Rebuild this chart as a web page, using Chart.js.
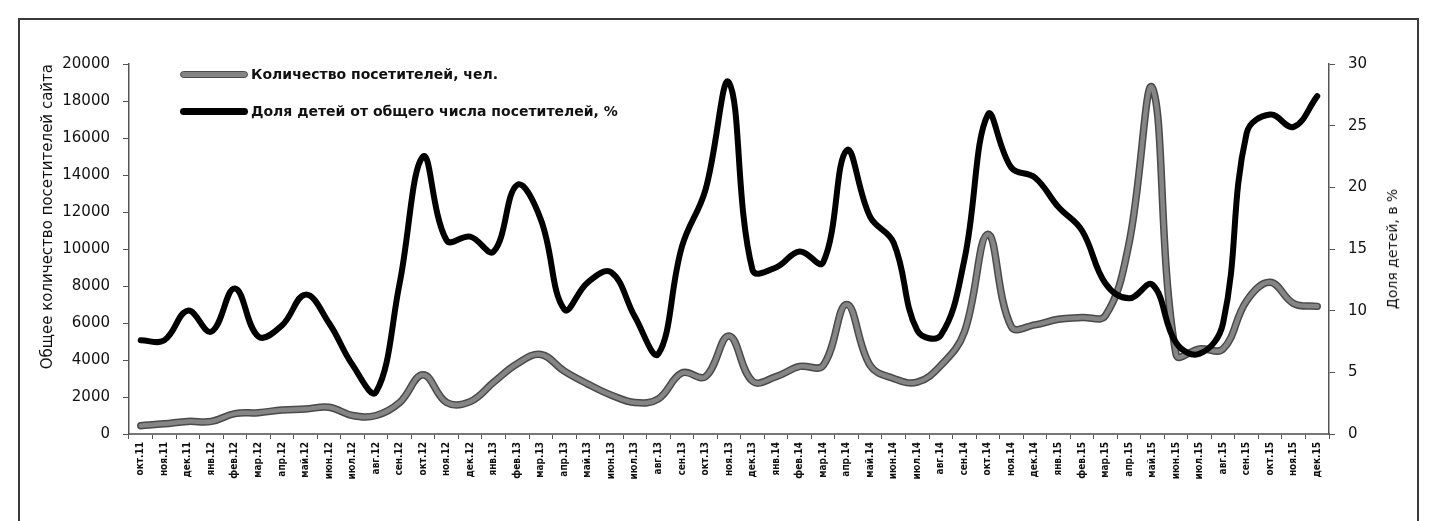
<!DOCTYPE html>
<html lang="ru">
<head>
    <meta charset="UTF-8">
    <title>Посетители сайта</title>
    <script src="https://cdn.jsdelivr.net/npm/chart.js"></script>
    <style>
        html, body { margin: 0; padding: 0; background: #fff; }
        #wrap { position: relative; width: 1439px; height: 521px; overflow: hidden; }
        #frame {
            position: absolute; left: 18px; top: 18px; width: 1401px; height: 520px;
            border: 2px solid #3a3a3a; box-sizing: border-box;
        }
        canvas { position: absolute; left: 0; top: 0; }
        .legend {
            position: absolute; left: 180px; font: bold 14px "DejaVu Sans", sans-serif; color: #111;
            display: flex; align-items: center; white-space: nowrap;
        }
        .legend .swatch { width: 68px; height: 7px; border-radius: 4px; margin-right: 3px; box-sizing: border-box; }
        .legend .gray { background: #858585; border: 1.5px solid #4a4a4a; }
        .legend .black { background: #000; }
        #rightTitle {
            position: absolute; left: 1392px; top: 249px; white-space: nowrap;
            font: 14px "DejaVu Sans", sans-serif; color: #111;
            transform: translate(-50%, -50%) rotate(-90deg);
        }
    </style>
</head>
<body>
<div id="wrap">
    <div id="frame"></div>
    <canvas id="chart" width="1439" height="521"></canvas>
    <div class="legend" style="top:66px"><span class="swatch gray"></span>Количество посетителей, чел.</div>
    <div class="legend" style="top:103px"><span class="swatch black"></span>Доля детей от общего числа посетителей, %</div>
    <div id="rightTitle">Доля детей, в %</div>
</div>

<script>
    const months = ['окт.11', 'ноя.11', 'дек.11',
        'янв.12', 'фев.12', 'мар.12', 'апр.12', 'май.12', 'июн.12', 'июл.12', 'авг.12', 'сен.12', 'окт.12', 'ноя.12', 'дек.12',
        'янв.13', 'фев.13', 'мар.13', 'апр.13', 'май.13', 'июн.13', 'июл.13', 'авг.13', 'сен.13', 'окт.13', 'ноя.13', 'дек.13',
        'янв.14', 'фев.14', 'мар.14', 'апр.14', 'май.14', 'июн.14', 'июл.14', 'авг.14', 'сен.14', 'окт.14', 'ноя.14', 'дек.14',
        'янв.15', 'фев.15', 'мар.15', 'апр.15', 'май.15', 'июн.15', 'июл.15', 'авг.15', 'сен.15', 'окт.15', 'ноя.15', 'дек.15'];

    // количество посетителей, чел.
    const visitors = [450, 550, 680,
        680, 1100, 1150, 1300, 1350, 1450, 1000, 1000, 1700, 3200, 1700, 1750,
        2800, 3800, 4300, 3400, 2700, 2100, 1700, 1900, 3300, 3100, 5300, 2850,
        3100, 3650, 3700, 7000, 3700, 3000, 2800, 3700, 5500, 10800, 5800, 5900,
        6200, 6300, 6400, 10300, 18700, 4300, 4600, 4600, 7200, 8200, 7050, 6900];

    // доля детей, %
    const childShare = [7.6, 7.6, 10.0,
        8.3, 11.8, 7.9, 8.8, 11.3, 9.0, 5.6, 3.4, 12.2, 22.5, 15.7, 16.0,
        14.8, 20.2, 17.4, 10.1, 12.3, 13.1, 9.5, 6.5, 15.2, 19.8, 28.5, 13.3,
        13.5, 14.8, 13.9, 23.0, 17.6, 15.5, 8.4, 8.0, 14.1, 25.9, 21.6, 20.8,
        18.4, 16.5, 12.2, 11.0, 12.1, 7.4, 6.5, 9.0, 24.4, 25.9, 24.9, 27.4];

    const axisColor = '#555';
    const tickFont = { family: 'DejaVu Sans', size: 15 };
    const plain = v => String(v);

    new Chart(document.getElementById('chart'), {
        type: 'line',
        data: {
            labels: months,
            datasets: [
                {
                    label: 'Доля детей от общего числа посетителей, %',
                    data: childShare,
                    yAxisID: 'y1',
                    borderColor: '#000',
                    borderWidth: 6,
                    order: 1
                },
                {
                    label: 'Количество посетителей, чел.',
                    data: visitors,
                    yAxisID: 'y',
                    borderColor: '#858585',
                    borderWidth: 4.5,
                    order: 2
                },
                {
                    // outline under the gray line
                    label: 'outline',
                    data: visitors,
                    yAxisID: 'y',
                    borderColor: '#4a4a4a',
                    borderWidth: 7.5,
                    order: 3
                }
            ]
        },
        options: {
            responsive: false,
            animation: false,
            elements: {
                point: { radius: 0 },
                line: { tension: 0.4, borderCapStyle: 'round', borderJoinStyle: 'round' }
            },
            layout: { padding: { left: 35, right: 35, top: 64, bottom: 0 } },
            plugins: { legend: { display: false }, tooltip: { enabled: false } },
            scales: {
                x: {
                    offset: true,
                    grid: { offset: true, drawOnChartArea: false, tickLength: 5, color: axisColor },
                    border: { display: true, color: '#777', width: 2 },
                    ticks: {
                        autoSkip: false, maxRotation: 90, minRotation: 90, padding: 3,
                        color: '#111', font: { family: 'DejaVu Sans Condensed', size: 10, weight: 'bold' }
                    },
                    afterFit: s => { s.height = 87; }
                },
                y: {
                    position: 'left',
                    min: 0, max: 20000,
                    ticks: { stepSize: 2000, padding: 13, color: '#111', font: tickFont, callback: plain },
                    grid: { drawOnChartArea: false, tickLength: 6, color: axisColor },
                    border: { display: true, color: axisColor, width: 1.5 },
                    title: {
                        display: true, align: 'end', text: 'Общее количество посетителей сайта',
                        color: '#111', font: { family: 'DejaVu Sans', size: 15 }
                    },
                    afterFit: s => { s.width = 94; }
                },
                y1: {
                    position: 'right',
                    min: 0, max: 30,
                    ticks: { stepSize: 5, padding: 13, color: '#111', font: tickFont, callback: plain },
                    grid: { drawOnChartArea: false, tickLength: 6, color: axisColor },
                    border: { display: true, color: axisColor, width: 1.5 },
                    afterFit: s => { s.width = 110 - 35; }
                }
            }
        }
    });
</script>
</body>
</html>
